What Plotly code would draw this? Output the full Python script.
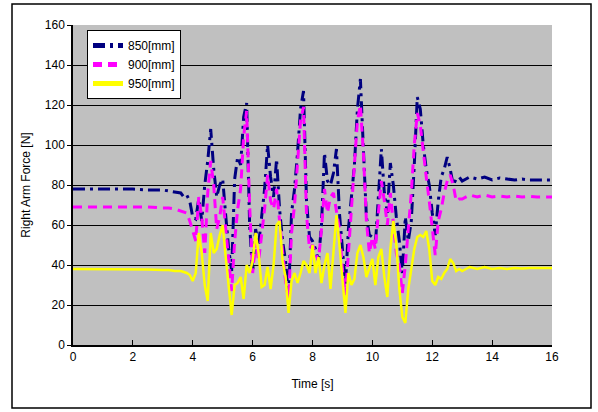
import plotly.graph_objects as go

# ---- data ----
time_s = [0, 0.5, 1.0, 1.5, 2.0, 2.5, 3.0, 3.2, 3.4, 3.6, 3.7,
          3.8, 3.9, 4.0, 4.1, 4.2, 4.3, 4.4, 4.5, 4.6, 4.7, 4.8, 4.9,
          5.0, 5.1, 5.2, 5.3, 5.4, 5.5, 5.6, 5.7, 5.8, 5.9,
          6.0, 6.1, 6.2, 6.3, 6.4, 6.5, 6.6, 6.7, 6.8, 6.9,
          7.0, 7.1, 7.2, 7.3, 7.4, 7.5, 7.6, 7.7, 7.8, 7.9,
          8.0, 8.1, 8.2, 8.3, 8.4, 8.5, 8.6, 8.7, 8.8, 8.9,
          9.0, 9.1, 9.2, 9.3, 9.4, 9.5, 9.6, 9.7, 9.8, 9.9,
          10.0, 10.1, 10.2, 10.3, 10.4, 10.5, 10.6, 10.7, 10.8, 10.9,
          11.0, 11.1, 11.2, 11.3, 11.4, 11.5, 11.6, 11.7, 11.8, 11.9,
          12.0, 12.1, 12.2, 12.3, 12.4, 12.5, 12.6, 12.7, 12.8, 12.9,
          13.0, 13.25, 13.5, 13.75, 14.0, 14.25, 14.5, 14.75, 15.0, 15.25, 15.5, 16.0]

force_850 = [78, 78, 78, 78, 78, 77.5, 77.5, 77, 76.5, 76, 74,
             75, 72, 64, 63, 73, 62, 80, 92, 108, 88, 74, 80,
             83, 65, 48, 37, 83, 94, 90, 114, 121, 60,
             36, 58, 50, 64, 78, 100, 84, 74, 93, 68,
             52, 42, 24, 66, 78, 96, 118, 127, 72, 54,
             52, 48, 42, 60, 96, 82, 80, 86, 98, 66,
             48, 30, 58, 76, 90, 118, 133, 98, 64, 55,
             54, 50, 72, 98, 76, 66, 91, 80, 64, 52,
             36, 64, 52, 62, 90, 124, 118, 100, 88, 80,
             66, 55, 72, 84, 88, 94, 88, 80, 83, 84,
             82, 84, 83, 84, 82.5, 83.5, 83, 82.5, 83, 82.5, 82.5, 82.5]

force_900 = [69, 69, 69, 69, 69, 69, 68.5, 68.5, 68, 67, 66.5,
             66, 62, 57, 52, 74, 64, 46, 76, 92, 80, 58, 64,
             74, 58, 45, 27, 52, 68, 78, 104, 117, 70,
             36, 52, 42, 54, 68, 85, 72, 68, 78, 62,
             48, 32, 23, 56, 70, 90, 112, 119, 65, 48,
             50, 46, 42, 58, 78, 66, 74, 76, 68, 58,
             38, 25, 46, 68, 86, 112, 120, 96, 62, 46,
             54, 48, 66, 82, 72, 60, 76, 60, 46, 40,
             26, 40, 58, 76, 100, 116, 110, 96, 84, 72,
             58, 45, 62, 68, 76, 82, 85, 80, 72, 73,
             73, 75, 74, 75, 74, 74.5, 74, 74.5, 74, 74.3, 74, 74]

force_950 = [38, 38, 38, 38, 38, 37.8, 37.5, 37.5, 37, 37, 36.5,
             36, 35, 32, 36, 56, 46, 30, 22, 56, 46, 48, 55,
             60, 44, 30, 15, 30, 31, 34, 23, 40, 36,
             42, 56, 46, 29, 30, 39, 28, 40, 60, 62,
             42, 34, 16, 32, 36, 31, 36, 42, 40, 36,
             50, 36, 44, 31, 40, 46, 28, 48, 65, 50,
             34, 16, 36, 30, 33, 46, 50, 44, 34, 38,
             43, 30, 44, 48, 34, 24, 48, 62, 50, 28,
             14, 11, 28, 38, 48, 54, 55, 54, 57, 48,
             32, 30, 34, 33, 36, 38, 43, 41, 37, 38,
             37, 39, 38, 39, 38, 38.5, 38, 38.5, 38.2, 38.5, 38.5, 38.5]

series_names = ["850[mm]", "900[mm]", "950[mm]"]
x_ticks = [0, 2, 4, 6, 8, 10, 12, 14, 16]
y_ticks = [0, 20, 40, 60, 80, 100, 120, 140, 160]

FONT = "Liberation Sans, Arial, sans-serif"

fig = go.Figure()
fig.add_trace(go.Scatter(x=time_s, y=force_850, name=series_names[0], mode="lines",
                         line=dict(color="#000080", width=3, dash="12px,5px,3px,5px")))
fig.add_trace(go.Scatter(x=time_s, y=force_900, name=series_names[1], mode="lines",
                         line=dict(color="#FF00FF", width=3, dash="9px,6px")))
fig.add_trace(go.Scatter(x=time_s, y=force_950, name=series_names[2], mode="lines",
                         line=dict(color="#FFFF00", width=2.5)))

L, R, T, B = 73, 552, 25, 345
W, H = 598, 412
pw, ph = R - L, B - T

def px(xp):
    return (xp - L) / pw

def py(yp):
    return (B - yp) / ph

fig.update_layout(
    width=W, height=H,
    margin=dict(l=L, r=W - R, t=T, b=H - B),
    paper_bgcolor="white",
    plot_bgcolor="#C0C0C0",
    font=dict(family=FONT, size=12, color="black"),
    showlegend=True,
    legend=dict(x=px(87), y=py(30), xanchor="left", yanchor="top",
                bgcolor="white", bordercolor="black", borderwidth=1,
                font=dict(size=12, family=FONT), tracegroupgap=0,
                itemsizing="constant"),
    xaxis=dict(range=[0, 16], tickvals=x_ticks, ticks="inside", ticklen=5,
               tickcolor="black", showline=True, linecolor="black", linewidth=1.5,
               showgrid=False, zeroline=False, mirror=False,
               title=dict(text="Time [s]", font=dict(size=12), standoff=16),
               tickfont=dict(size=12)),
    yaxis=dict(range=[0, 160], tickvals=y_ticks, ticks="outside", ticklen=4,
               tickcolor="black", showline=True, linecolor="black", linewidth=1.5,
               showgrid=True, gridcolor="black", gridwidth=1, zeroline=False,
               title=dict(text="Right Arm Force [N]", font=dict(size=12), standoff=12),
               tickfont=dict(size=12)),
    shapes=[dict(type="rect", xref="paper", yref="paper",
                 x0=px(12), x1=px(591), y0=py(408), y1=py(4),
                 line=dict(color="black", width=1.5), fillcolor="rgba(0,0,0,0)",
                 layer="below")],
)

fig.write_html("out.html")
